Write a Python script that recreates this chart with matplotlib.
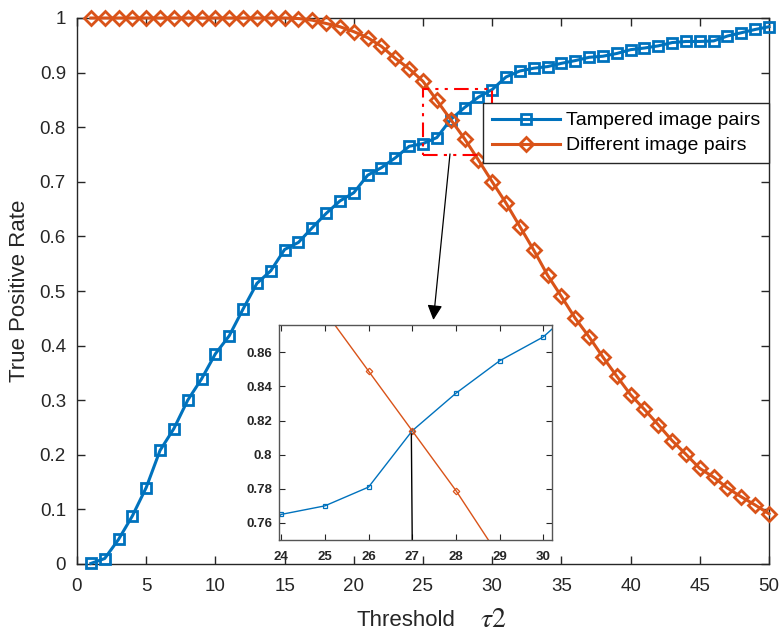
import numpy as np
import matplotlib
matplotlib.use('Agg')
import matplotlib.pyplot as plt

# --- data ---
threshold = np.arange(1, 51)

tampered_tpr = [
    0.001, 0.010, 0.045, 0.088, 0.140, 0.208, 0.248, 0.300, 0.339, 0.385,
    0.418, 0.467, 0.514, 0.537, 0.576, 0.589, 0.616, 0.642, 0.665, 0.680,
    0.712, 0.726, 0.744, 0.765, 0.770, 0.781, 0.814, 0.836, 0.855, 0.869,
    0.892, 0.903, 0.908, 0.911, 0.917, 0.922, 0.928, 0.930, 0.935, 0.942,
    0.945, 0.949, 0.955, 0.957, 0.957, 0.958, 0.967, 0.973, 0.979, 0.984,
]

different_tpr = [
    1.000, 1.000, 1.000, 1.000, 1.000, 1.000, 1.000, 1.000, 1.000, 1.000,
    1.000, 1.000, 1.000, 1.000, 1.000, 0.999, 0.996, 0.990, 0.984, 0.975,
    0.964, 0.948, 0.926, 0.907, 0.884, 0.849, 0.814, 0.779, 0.740, 0.700,
    0.661, 0.618, 0.575, 0.529, 0.490, 0.450, 0.416, 0.379, 0.344, 0.310,
    0.283, 0.255, 0.226, 0.201, 0.175, 0.159, 0.139, 0.123, 0.108, 0.092,
]

series_labels = ['Tampered image pairs', 'Different image pairs']
x_ticks = [0, 5, 10, 15, 20, 25, 30, 35, 40, 45, 50]
y_ticks = [0, 0.1, 0.2, 0.3, 0.4, 0.5, 0.6, 0.7, 0.8, 0.9, 1.0]
y_tick_labels = ['0', '0.1', '0.2', '0.3', '0.4', '0.5', '0.6', '0.7', '0.8', '0.9', '1']
inset_x_ticks = [24, 25, 26, 27, 28, 29, 30]
inset_y_ticks = [0.76, 0.78, 0.80, 0.82, 0.84, 0.86]
inset_y_labels = ['0.76', '0.78', '0.8', '0.82', '0.84', '0.86']

# zoom box in data units and crossing point
zoom_box = (25, 0.75, 30, 0.87)
cross_x, cross_y = 27, 0.814

BLUE = '#0072BD'
ORANGE = '#D95319'
AXCOL = '#262626'

plt.rcParams['font.family'] = ['Liberation Sans', 'DejaVu Sans']
plt.rcParams['mathtext.fontset'] = 'stix'

fig = plt.figure(figsize=(7.79, 6.35), dpi=100)
W, H = 779, 635
ax = fig.add_axes([77 / W, (H - 564) / H, (769 - 77) / W, (564 - 18) / H])

ax.plot(threshold, tampered_tpr, color=BLUE, lw=2.2, marker='s', ms=7.5,
        mfc='none', mew=2, label=series_labels[0], clip_on=False, zorder=3)
ax.plot(threshold, different_tpr, color=ORANGE, lw=2.2, marker='D', ms=7.6,
        mfc='none', mew=2, label=series_labels[1], clip_on=False, zorder=3)

ax.set_xlim(0, 50)
ax.set_ylim(0, 1)
ax.set_xticks(x_ticks)
ax.set_yticks(y_ticks)
ax.set_yticklabels(y_tick_labels)
ax.tick_params(direction='in', length=6, width=1, colors=AXCOL, labelsize=13.5,
               top=True, right=True)
ax.tick_params(axis='x', pad=10)
ax.tick_params(axis='y', pad=8)
for sp in ax.spines.values():
    sp.set_color(AXCOL)
    sp.set_linewidth(1)

# axis label: "Threshold" plus a larger serif tau2, as in the reference
ax.set_xlabel('Threshold', fontsize=16, color=AXCOL)
ax.xaxis.set_label_coords((406 - 77) / 692, -(626 - 564) / 546)
ax.xaxis.label.set_va('baseline')
ax.text((493 - 77) / 692, -(627 - 564) / 546, '$\\tau2$', transform=ax.transAxes,
        fontsize=20, color=AXCOL, ha='center', va='baseline')
ax.set_ylabel('True Positive Rate', fontsize=16, color=AXCOL, labelpad=7)

leg = ax.legend(loc='upper right', bbox_to_anchor=(1.0, (564 - 103) / 546),
                borderaxespad=0, fontsize=14, handlelength=3.5,
                handletextpad=0.3, borderpad=0.45, labelspacing=0.38,
                fancybox=False, framealpha=1, edgecolor=AXCOL)
leg.get_frame().set_linewidth(1)

# dash-dot red box around the crossing
x0, y0, x1, y1 = zoom_box
ax.plot([x0, x1, x1, x0, x0], [y0, y0, y1, y1, y0], color='red', lw=1.5,
        linestyle=(0, (7, 3, 1.5, 3, 1.5, 3)), zorder=4)

# arrow from the box down to the inset
ax.annotate('', xy=(25.75, 0.447), xytext=(26.95, 0.751),
            arrowprops=dict(arrowstyle='-|>,head_length=0.9,head_width=0.45',
                            color='black', lw=0.9, shrinkA=0, shrinkB=0))

# inset zoom
axin = fig.add_axes([279 / W, (H - 540) / H, (552 - 279) / W, (540 - 325) / H])
axin.plot(threshold, tampered_tpr, color=BLUE, lw=1, marker='s', ms=3.5,
          mfc='none', mew=0.9)
axin.plot(threshold, different_tpr, color=ORANGE, lw=1, marker='D', ms=3.3,
          mfc='none', mew=0.9)
axin.plot([cross_x - 0.02, cross_x], [cross_y - 0.002, 0.75], color='black', lw=1)
axin.set_xlim(23.95, 30.2)
axin.set_ylim(0.75, 0.876)
axin.set_xticks(inset_x_ticks)
axin.set_yticks(inset_y_ticks)
axin.set_yticklabels(inset_y_labels)
axin.tick_params(direction='in', length=4, width=0.8, colors=AXCOL,
                 labelsize=9.5, top=True, right=True, pad=5)
axin.tick_params(axis='x', pad=8)
for lab in axin.get_xticklabels() + axin.get_yticklabels():
    lab.set_fontweight('bold')
for sp in axin.spines.values():
    sp.set_color('#555555')
    sp.set_linewidth(1)

fig.savefig('out.png', dpi=100)
